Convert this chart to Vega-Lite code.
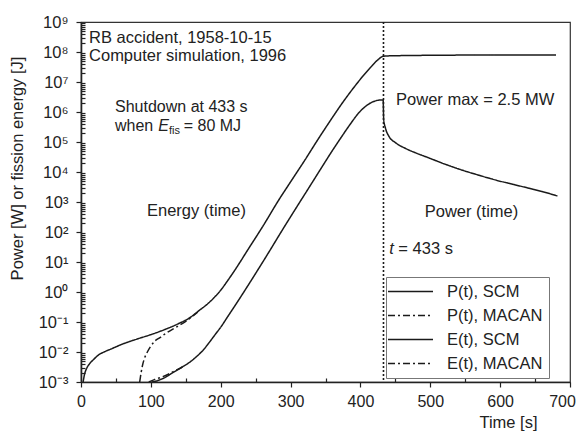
{
  "$schema": "https://vega.github.io/schema/vega-lite/v6.json",
  "width": 489,
  "height": 360,
  "autosize": "none",
  "padding": {"left": 81, "top": 22, "right": 6, "bottom": 50},
  "background": "white",
  "view": {"stroke": "#333", "strokeWidth": 1.2},
  "config": {
    "font": "Liberation Sans",
    "view": {"stroke": "#333", "strokeWidth": 1.2},
    "axis": {"grid": false, "labelFont": "Liberation Sans", "labelFontSize": 16, "labelColor": "#222", "titleFont": "Liberation Sans", "titleFontSize": 16.5, "titleFontWeight": "normal", "titleColor": "#222", "tickColor": "#222", "domainColor": "#222", "domainWidth": 1.6, "tickWidth": 1.2},
    "text": {"font": "Liberation Sans", "fontSize": 16.5, "color": "#222"}
  },
  "resolve": {"axis": {"x": "independent", "y": "independent"}},
  "layer": [
    {
      "data": {"values": [
        {"series": "E(t), SCM", "t": 3, "v": 1e-3},
        {"series": "E(t), SCM", "t": 5, "v": 0.00178},
        {"series": "E(t), SCM", "t": 8, "v": 0.00282},
        {"series": "E(t), SCM", "t": 12, "v": 0.00398},
        {"series": "E(t), SCM", "t": 18, "v": 0.00562},
        {"series": "E(t), SCM", "t": 25, "v": 0.00794},
        {"series": "E(t), SCM", "t": 33, "v": 0.01},
        {"series": "E(t), SCM", "t": 43, "v": 0.0126},
        {"series": "E(t), SCM", "t": 60, "v": 0.0186},
        {"series": "E(t), SCM", "t": 80, "v": 0.0269},
        {"series": "E(t), SCM", "t": 100, "v": 0.038},
        {"series": "E(t), SCM", "t": 120, "v": 0.0562},
        {"series": "E(t), SCM", "t": 140, "v": 0.0891},
        {"series": "E(t), SCM", "t": 155, "v": 0.135},
        {"series": "E(t), SCM", "t": 170, "v": 0.251},
        {"series": "E(t), SCM", "t": 180, "v": 0.38},
        {"series": "E(t), SCM", "t": 190, "v": 0.631},
        {"series": "E(t), SCM", "t": 200, "v": 1.15},
        {"series": "E(t), SCM", "t": 210, "v": 2.4},
        {"series": "E(t), SCM", "t": 220, "v": 5.25},
        {"series": "E(t), SCM", "t": 240, "v": 28.2},
        {"series": "E(t), SCM", "t": 260, "v": 151},
        {"series": "E(t), SCM", "t": 284, "v": 1259},
        {"series": "E(t), SCM", "t": 300, "v": 4677},
        {"series": "E(t), SCM", "t": 320, "v": 23990},
        {"series": "E(t), SCM", "t": 341, "v": 141300},
        {"series": "E(t), SCM", "t": 360, "v": 660700},
        {"series": "E(t), SCM", "t": 375, "v": 2138000},
        {"series": "E(t), SCM", "t": 390, "v": 6310000},
        {"series": "E(t), SCM", "t": 403, "v": 15140000},
        {"series": "E(t), SCM", "t": 415, "v": 31620000},
        {"series": "E(t), SCM", "t": 425, "v": 54950000},
        {"series": "E(t), SCM", "t": 433, "v": 72440000},
        {"series": "E(t), SCM", "t": 440, "v": 74130000},
        {"series": "E(t), SCM", "t": 460, "v": 75860000},
        {"series": "E(t), SCM", "t": 500, "v": 77620000},
        {"series": "E(t), SCM", "t": 600, "v": 79430000},
        {"series": "E(t), SCM", "t": 680, "v": 79430000},

        {"series": "E(t), MACAN", "t": 84, "v": 1e-3},
        {"series": "E(t), MACAN", "t": 86, "v": 0.002},
        {"series": "E(t), MACAN", "t": 88, "v": 0.00355},
        {"series": "E(t), MACAN", "t": 91, "v": 0.00631},
        {"series": "E(t), MACAN", "t": 95, "v": 0.01},
        {"series": "E(t), MACAN", "t": 100, "v": 0.0158},
        {"series": "E(t), MACAN", "t": 106, "v": 0.0234},
        {"series": "E(t), MACAN", "t": 113, "v": 0.0302},
        {"series": "E(t), MACAN", "t": 122, "v": 0.0427},
        {"series": "E(t), MACAN", "t": 137, "v": 0.0692},
        {"series": "E(t), MACAN", "t": 150, "v": 0.105},
        {"series": "E(t), MACAN", "t": 160, "v": 0.158},
        {"series": "E(t), MACAN", "t": 167, "v": 0.214},

        {"series": "P(t), SCM", "t": 101, "v": 1e-3},
        {"series": "P(t), SCM", "t": 110, "v": 0.00112},
        {"series": "P(t), SCM", "t": 120, "v": 0.00141},
        {"series": "P(t), SCM", "t": 132, "v": 0.00209},
        {"series": "P(t), SCM", "t": 145, "v": 0.00316},
        {"series": "P(t), SCM", "t": 155, "v": 0.00447},
        {"series": "P(t), SCM", "t": 165, "v": 0.00692},
        {"series": "P(t), SCM", "t": 175, "v": 0.0117},
        {"series": "P(t), SCM", "t": 184, "v": 0.0214},
        {"series": "P(t), SCM", "t": 192, "v": 0.038},
        {"series": "P(t), SCM", "t": 201, "v": 0.0724},
        {"series": "P(t), SCM", "t": 210, "v": 0.151},
        {"series": "P(t), SCM", "t": 220, "v": 0.339},
        {"series": "P(t), SCM", "t": 235, "v": 1.17},
        {"series": "P(t), SCM", "t": 250, "v": 4.17},
        {"series": "P(t), SCM", "t": 270, "v": 23.4},
        {"series": "P(t), SCM", "t": 287, "v": 104.7},
        {"series": "P(t), SCM", "t": 306, "v": 537},
        {"series": "P(t), SCM", "t": 325, "v": 2692},
        {"series": "P(t), SCM", "t": 345, "v": 14790},
        {"series": "P(t), SCM", "t": 360, "v": 52480},
        {"series": "P(t), SCM", "t": 370, "v": 117500},
        {"series": "P(t), SCM", "t": 385, "v": 380200},
        {"series": "P(t), SCM", "t": 398, "v": 955000},
        {"series": "P(t), SCM", "t": 408, "v": 1585000},
        {"series": "P(t), SCM", "t": 416, "v": 2089000},
        {"series": "P(t), SCM", "t": 423, "v": 2399000},
        {"series": "P(t), SCM", "t": 428, "v": 2512000},
        {"series": "P(t), SCM", "t": 432.5, "v": 2512000},
        {"series": "P(t), SCM", "t": 433.3, "v": 562300},
        {"series": "P(t), SCM", "t": 436, "v": 281800},
        {"series": "P(t), SCM", "t": 441, "v": 151400},
        {"series": "P(t), SCM", "t": 450, "v": 95500},
        {"series": "P(t), SCM", "t": 465, "v": 60260},
        {"series": "P(t), SCM", "t": 480, "v": 42660},
        {"series": "P(t), SCM", "t": 499, "v": 28840},
        {"series": "P(t), SCM", "t": 520, "v": 18620},
        {"series": "P(t), SCM", "t": 546, "v": 11480},
        {"series": "P(t), SCM", "t": 570, "v": 7762},
        {"series": "P(t), SCM", "t": 594, "v": 5370},
        {"series": "P(t), SCM", "t": 620, "v": 3802},
        {"series": "P(t), SCM", "t": 641, "v": 2884},
        {"series": "P(t), SCM", "t": 660, "v": 2239},
        {"series": "P(t), SCM", "t": 682, "v": 1585},

        {"series": "P(t), MACAN", "t": 97, "v": 1e-3},
        {"series": "P(t), MACAN", "t": 105, "v": 0.0012},
        {"series": "P(t), MACAN", "t": 115, "v": 0.00145},
        {"series": "P(t), MACAN", "t": 125, "v": 0.00182},
        {"series": "P(t), MACAN", "t": 135, "v": 0.0024},
        {"series": "P(t), MACAN", "t": 145, "v": 0.00316}
      ]},
      "mark": {"type": "line", "color": "#1a1a1a", "strokeWidth": 1.5, "interpolate": "monotone", "clip": true},
      "encoding": {
        "x": {"field": "t", "type": "quantitative",
              "scale": {"domain": [0, 700], "nice": false, "zero": false},
              "axis": {"orient": "bottom", "values": [0, 100, 200, 300, 400, 500, 600, 700], "tickSize": 5, "labelPadding": 6, "labelFlush": false,
                       "labelOffset": {"condition": {"test": "datum.value === 700", "value": -8}, "value": 0},
                       "title": "Time [s]", "titleX": 427, "titleY": 40, "titleAlign": "center", "titleBaseline": "middle"}},
        "y": {"field": "v", "type": "quantitative",
              "scale": {"type": "log", "domain": [0.001, 1000000000], "nice": false},
              "axis": {"orient": "left", "values": [0.001, 0.01, 0.1, 1, 10, 100, 1000, 10000, 100000, 1000000, 10000000, 100000000, 1000000000], "tickSize": 5, "labelPadding": 8, "labelFlush": false, "labelFontSize": 16.5,
                       "labelExpr": "'10' + ['⁻³','⁻²','⁻¹','⁰','¹','²','³','⁴','⁵','⁶','⁷','⁸','⁹'][round(log(datum.value)/LN10)+3]",
                       "title": "Power [W] or fission energy [J]", "titleX": -64, "titleY": 146, "titleAngle": -90, "titleAlign": "center", "titleBaseline": "middle"}},
        "detail": {"field": "series"},
        "strokeDash": {"field": "series", "type": "nominal",
          "scale": {"domain": ["P(t), SCM", "P(t), MACAN", "E(t), SCM", "E(t), MACAN"], "range": [[1, 0], [7, 3, 2, 3], [1, 0], [7, 3, 2, 3]]},
          "legend": {"orient": "none", "legendX": 305, "legendY": 255, "title": null, "symbolType": "M-3,0H3", "symbolSize": 225, "symbolOffset": 10, "symbolStrokeWidth": 1.5, "symbolStrokeColor": "#1a1a1a", "labelFont": "Liberation Sans", "labelFontSize": 16.5, "labelColor": "#222", "labelOffset": 28, "rowPadding": 7, "padding": 6, "strokeColor": "#777", "fillColor": "white"}}
      }
    },
    {
      "data": {"values": [{"t": 0, "v": 1}]},
      "mark": {"type": "point", "opacity": 0},
      "encoding": {
        "x": {"field": "t", "type": "quantitative",
              "axis": {"orient": "bottom", "values": [50, 150, 250, 350, 450, 550, 650], "tickSize": -4, "labels": false, "domain": false, "title": null}},
        "y": {"field": "v", "type": "quantitative",
              "axis": {"orient": "left", "tickSize": -4, "labels": false, "domain": false, "title": null,
                       "values": [0.002,0.003,0.004,0.005,0.006,0.007,0.008,0.009,0.02,0.03,0.04,0.05,0.06,0.07,0.08,0.09,0.2,0.3,0.4,0.5,0.6,0.7,0.8,0.9,2,3,4,5,6,7,8,9,20,30,40,50,60,70,80,90,200,300,400,500,600,700,800,900,2000,3000,4000,5000,6000,7000,8000,9000,20000,30000,40000,50000,60000,70000,80000,90000,200000,300000,400000,500000,600000,700000,800000,900000,2000000,3000000,4000000,5000000,6000000,7000000,8000000,9000000,20000000,30000000,40000000,50000000,60000000,70000000,80000000,90000000,200000000,300000000,400000000,500000000,600000000,700000000,800000000,900000000]}}
      }
    },
    {
      "data": {"values": [{}]},
      "mark": {"type": "rule", "strokeDash": [2, 2], "strokeWidth": 1.6, "color": "#1a1a1a"},
      "encoding": {"x": {"datum": 433, "axis": null}}
    },
    {"data": {"values": [{}]}, "mark": {"type": "text", "text": "RB accident, 1958-10-15", "align": "left", "baseline": "middle", "fontSize": 16.5},
     "encoding": {"x": {"datum": 11.5, "axis": null}, "y": {"datum": 282000000, "axis": null}}},
    {"data": {"values": [{}]}, "mark": {"type": "text", "text": "Computer simulation, 1996", "align": "left", "baseline": "middle", "fontSize": 16.5},
     "encoding": {"x": {"datum": 11.5, "axis": null}, "y": {"datum": 73600000, "axis": null}}},
    {"data": {"values": [{}]}, "mark": {"type": "text", "text": "Shutdown at 433 s", "align": "left", "baseline": "middle", "fontSize": 16},
     "encoding": {"x": {"datum": 48.7, "axis": null}, "y": {"datum": 1470000, "axis": null}}},
    {"data": {"values": [{}]}, "mark": {"type": "text", "text": "when", "align": "left", "baseline": "middle", "fontSize": 16},
     "encoding": {"x": {"datum": 48.7, "axis": null}, "y": {"datum": 341000, "axis": null}}},
    {"data": {"values": [{}]}, "mark": {"type": "text", "text": "E", "align": "left", "baseline": "middle", "fontStyle": "italic", "fontSize": 16},
     "encoding": {"x": {"datum": 110.5, "axis": null}, "y": {"datum": 341000, "axis": null}}},
    {"data": {"values": [{}]}, "mark": {"type": "text", "text": "fis", "align": "left", "baseline": "middle", "fontSize": 11},
     "encoding": {"x": {"datum": 125.8, "axis": null}, "y": {"datum": 233000, "axis": null}}},
    {"data": {"values": [{}]}, "mark": {"type": "text", "text": "= 80 MJ", "align": "left", "baseline": "middle", "fontSize": 16},
     "encoding": {"x": {"datum": 147, "axis": null}, "y": {"datum": 341000, "axis": null}}},
    {"data": {"values": [{}]}, "mark": {"type": "text", "text": "Energy (time)", "align": "center", "baseline": "middle"},
     "encoding": {"x": {"datum": 165.3, "axis": null}, "y": {"datum": 500, "axis": null}}},
    {"data": {"values": [{}]}, "mark": {"type": "text", "text": "Power (time)", "align": "center", "baseline": "middle"},
     "encoding": {"x": {"datum": 559, "axis": null}, "y": {"datum": 470, "axis": null}}},
    {"data": {"values": [{}]}, "mark": {"type": "text", "text": "Power max = 2.5 MW", "align": "left", "baseline": "middle"},
     "encoding": {"x": {"datum": 451, "axis": null}, "y": {"datum": 2500000, "axis": null}}},
    {"data": {"values": [{}]}, "mark": {"type": "text", "text": "t", "align": "left", "baseline": "middle", "fontStyle": "italic"},
     "encoding": {"x": {"datum": 441.4, "axis": null}, "y": {"datum": 26.5, "axis": null}}},
    {"data": {"values": [{}]}, "mark": {"type": "text", "text": "= 433 s", "align": "left", "baseline": "middle"},
     "encoding": {"x": {"datum": 454.3, "axis": null}, "y": {"datum": 26.5, "axis": null}}}
  ]
}
